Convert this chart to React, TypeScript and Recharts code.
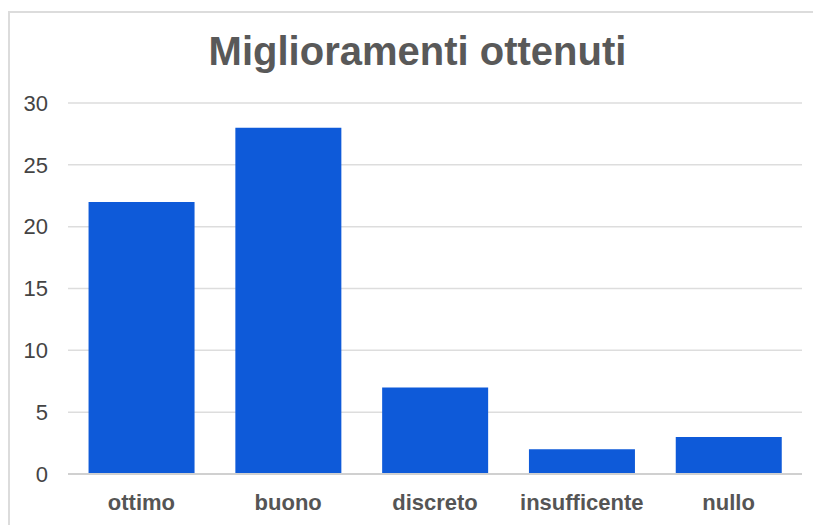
import React from 'react';
import { BarChart, Bar, XAxis, YAxis, CartesianGrid } from 'recharts';

// values
const categories = ['ottimo', 'buono', 'discreto', 'insufficente', 'nullo'];
const counts = [22, 28, 7, 2, 3];
const yTicks = [0, 5, 10, 15, 20, 25, 30];

const data = categories.map((name, i) => ({ name, value: counts[i] }));

const App: React.FC = () => {
    return (
        <div style={{ position: 'absolute', left: 0, top: 0, width: 813, height: 525, background: '#fff', overflow: 'hidden', fontFamily: 'Arial, "Liberation Sans", sans-serif' }}>
            {/* frame */}
            <div style={{ position: 'absolute', left: 8, top: 11, width: 830, height: 600, borderLeft: '2px solid #dcdcdc', borderTop: '2px solid #dcdcdc' }} />
            <div style={{ position: 'absolute', left: 0, width: 835, top: 28, textAlign: 'center', fontSize: 40, fontWeight: 'bold', color: '#595959', lineHeight: '46px' }}>
                Miglioramenti ottenuti
            </div>
            <div style={{ position: 'absolute', left: 0, top: 0 }}>
                <BarChart width={813} height={525} data={data} margin={{ top: 103, right: 11, bottom: 21, left: 8 }} barCategoryGap="14%">
                    <CartesianGrid vertical={false} stroke="#dddddd" strokeWidth={1.5} />
                    <XAxis
                        dataKey="name"
                        tickLine={false}
                        tickSize={0}
                        tickMargin={20}
                        axisLine={{ stroke: '#d0d0d0', strokeWidth: 2 }}
                        tick={{ fill: '#555555', fontSize: 22, fontWeight: 'bold', fontFamily: 'Arial, "Liberation Sans", sans-serif' }}
                    />
                    <YAxis
                        width={60}
                        domain={[0, 30]}
                        ticks={yTicks}
                        tickLine={false}
                        axisLine={false}
                        tickSize={0}
                        tickMargin={20}
                        tick={{ fill: '#444444', fontSize: 22, fontFamily: 'Arial, "Liberation Sans", sans-serif' }}
                    />
                    <Bar dataKey="value" fill="#0e5ad9" isAnimationActive={false} />
                </BarChart>
            </div>
        </div>
    );
};

export default App;
